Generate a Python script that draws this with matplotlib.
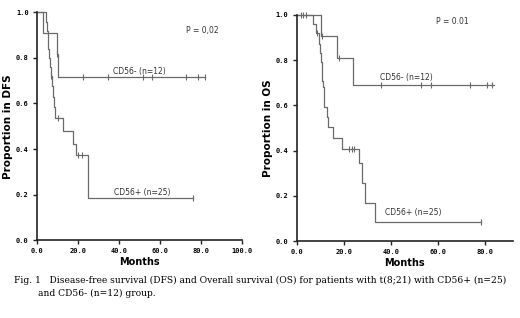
"""
Kaplan-Meier curves for DFS and OS, CD56+ vs CD56- in t(8;21).
"""

import numpy as np
import matplotlib
matplotlib.use("Agg")
import matplotlib.pyplot as plt

# --- DFS (left panel) ---
dfs_neg_times = [0, 3.1, 9.6, 10.0]
dfs_neg_surv = [1.0, 0.909, 0.818, 0.716]
dfs_neg_end = 82
dfs_neg_censor = [9.8, 22.6, 34.4, 51.7, 56.3, 72.7, 78.7, 82]

dfs_pos_times = [0, 4.4, 4.8, 5.2, 5.6, 6.0, 6.3, 6.6, 7.2, 7.8, 8.3, 8.8,
                 12.8, 17.4, 19.0, 25.0]
dfs_pos_surv = [1.0, 0.96, 0.92, 0.88, 0.84, 0.80, 0.76, 0.72, 0.675, 0.63,
                0.585, 0.535, 0.48, 0.424, 0.372, 0.186]
dfs_pos_end = 76
dfs_pos_censor = [6.8, 10.4, 20.1, 21.8, 76]

# --- OS (right panel) ---
os_neg_times = [0, 10.2, 17.1, 23.7]
os_neg_surv = [1.0, 0.909, 0.808, 0.69]
os_neg_end = 84
os_neg_censor = [1.6, 2.7, 3.8, 10.9, 18.0, 36.0, 52.7, 57.3, 74.0, 81.0, 83.3]

os_pos_times = [0, 6.9, 8.1, 9.6, 9.9, 10.2, 10.5, 10.8, 11.1, 11.4, 11.7,
                13.0, 13.3, 15.5, 19.4, 26.4, 27.9, 28.9, 33.2]
os_pos_surv = [1.0, 0.96, 0.92, 0.87, 0.83, 0.79, 0.75, 0.71, 0.68, 0.64,
               0.595, 0.55, 0.505, 0.457, 0.407, 0.344, 0.255, 0.17, 0.085]
os_pos_end = 78.6
os_pos_censor = [8.4, 22.3, 23.3, 24.3, 78.6]

y_ticks = [0.0, 0.2, 0.4, 0.6, 0.8, 1.0]
dfs_x_ticks = [0, 20, 40, 60, 80, 100]
os_x_ticks = [0, 20, 40, 60, 80]

LINE = "#6a6a6a"
TICKFONT = dict(family="DejaVu Sans Mono", weight="bold", size=5)


def km_curve(ax, times, surv, end, censor):
    t = list(times) + [end]
    s = list(surv) + [surv[-1]]
    ax.step(t, s, where="post", color=LINE, lw=0.9, clip_on=False)
    idx = np.searchsorted(times, censor, side="right") - 1
    cy = np.array(surv)[idx]
    ax.plot(censor, cy, ls="none", marker="|", ms=4, mew=0.8,
            color=LINE, clip_on=False)


def style_axes(ax, xticks, xmax, ylabel):
    ax.set_xlim(0, xmax)
    ax.set_ylim(0, 1.0)
    for side in ["top", "right"]:
        ax.spines[side].set_visible(False)
    for side in ["left", "bottom"]:
        ax.spines[side].set_linewidth(1.2)
        ax.spines[side].set_color("#222222")
    ax.set_xticks(xticks)
    ax.set_xticklabels(["%.1f" % v for v in xticks], fontdict=TICKFONT)
    ax.set_yticks(y_ticks)
    ax.set_yticklabels(["%.1f" % v for v in y_ticks], fontdict=TICKFONT)
    ax.tick_params(length=3, width=1.0, color="#222222", pad=3)
    ax.set_xlabel("Months", fontsize=7, fontweight="bold", labelpad=2)
    ax.set_ylabel(ylabel, fontsize=7.5, fontweight="bold", labelpad=2)


fig = plt.figure(figsize=(5.2, 3.18), dpi=100)
ax1 = fig.add_axes([0.0712, 0.245, 0.394, 0.716])
ax2 = fig.add_axes([0.571, 0.242, 0.415, 0.711])

km_curve(ax1, dfs_neg_times, dfs_neg_surv, dfs_neg_end, dfs_neg_censor)
km_curve(ax1, dfs_pos_times, dfs_pos_surv, dfs_pos_end, dfs_pos_censor)
style_axes(ax1, dfs_x_ticks, 100, "Proportion in DFS")
ax1.text(37, 0.722, "CD56- (n=12)", fontsize=5.5, va="bottom", color="#333333")
ax1.text(37.6, 0.21, "CD56+ (n=25)", fontsize=5.5, va="center", color="#333333")
ax1.text(72.7, 0.92, "P = 0,02", fontsize=5.5, va="center", color="#333333")

km_curve(ax2, os_neg_times, os_neg_surv, os_neg_end, os_neg_censor)
km_curve(ax2, os_pos_times, os_pos_surv, os_pos_end, os_pos_censor)
style_axes(ax2, os_x_ticks, 92, "Proportion in OS")
ax2.text(35.6, 0.724, "CD56- (n=12)", fontsize=5.5, va="center", color="#333333")
ax2.text(37.4, 0.125, "CD56+ (n=25)", fontsize=5.5, va="center", color="#333333")
ax2.text(59.4, 0.973, "P = 0.01", fontsize=5.5, va="center", color="#333333")

fig.text(0.027, 0.119,
         "Fig. 1   Disease-free survival (DFS) and Overall survival (OS) for patients "
         "with t(8;21) with CD56+ (n=25)",
         fontsize=6.6, family="DejaVu Serif", va="center")
fig.text(0.073, 0.078, "and CD56- (n=12) group.",
         fontsize=6.6, family="DejaVu Serif", va="center")

fig.savefig("out.png", dpi=100)
